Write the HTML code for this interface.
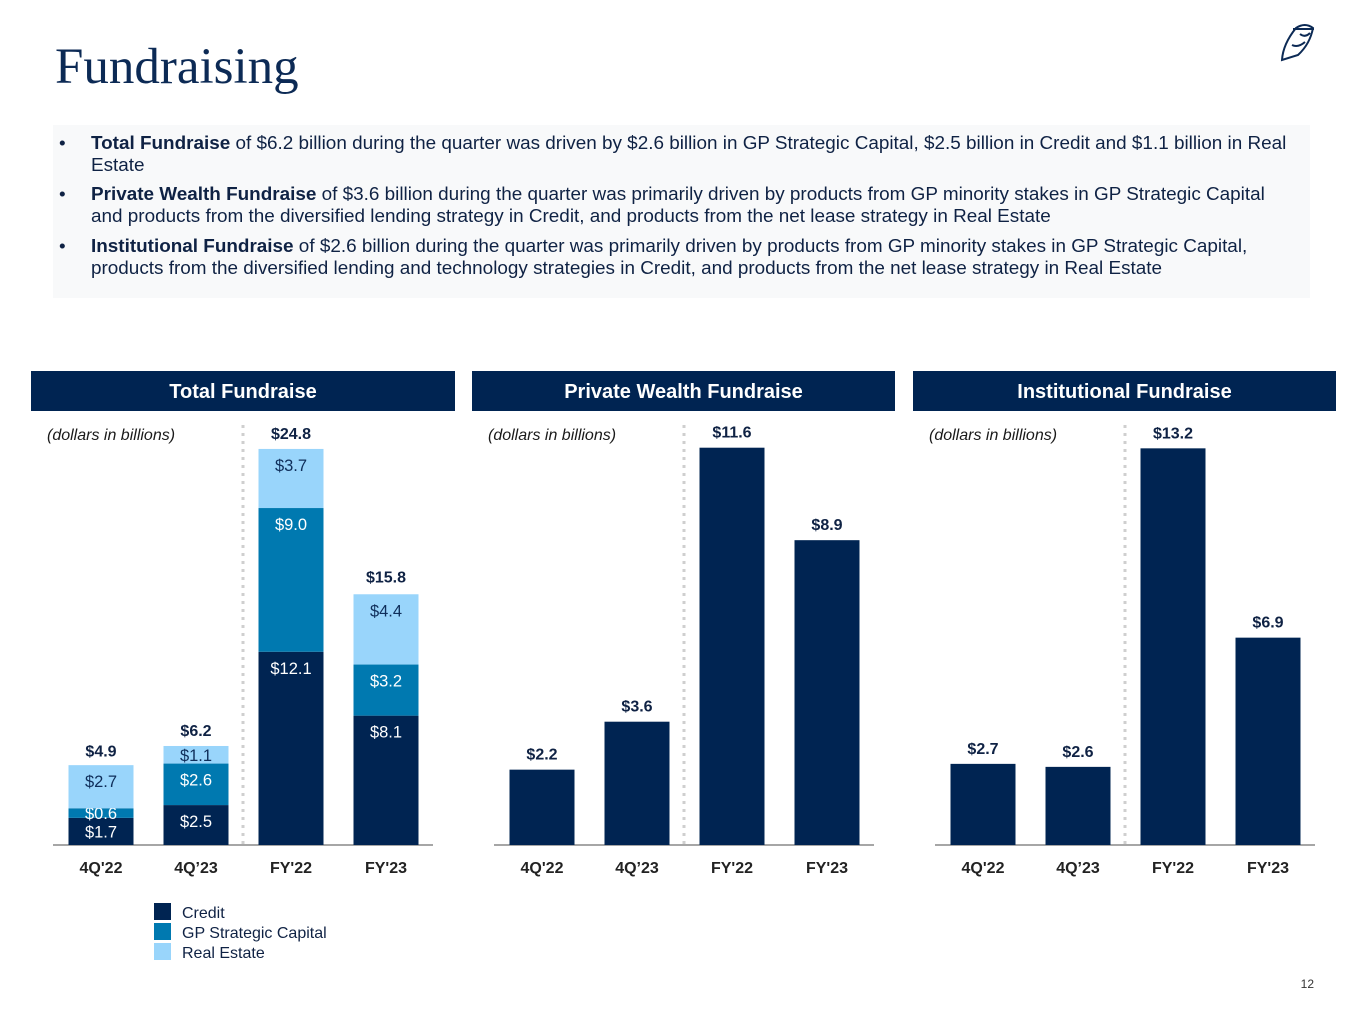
<!DOCTYPE html>
<html><head><meta charset="utf-8"><style>
body{margin:0;width:1365px;height:1024px;background:#fff;position:relative;overflow:hidden;font-family:"Liberation Sans",sans-serif;}
.title{position:absolute;left:55px;top:38px;font-family:"Liberation Serif",serif;font-size:51px;color:#0c2a55;}
.box{position:absolute;left:53px;top:125px;width:1257px;height:173px;background:#f8f9fa;}
.b{position:absolute;left:38px;width:1212px;font-size:18.9px;line-height:22px;color:#0f2244;}
.b:before{content:"•";position:absolute;left:-32px;}
.hdr{position:absolute;top:371px;height:40px;background:#002452;color:#fff;font-weight:bold;font-size:20px;line-height:42px;text-align:center;}
svg{position:absolute;left:0;top:0;}
</style></head><body>
<div class="title">Fundraising</div>
<svg width="1365" height="1024">
<g fill="none" stroke="#0c2a55" stroke-width="2">
<path d="M1296 28 Q1305 22 1313 28 Q1310 44 1298 55 L1282 60 Q1283 44 1296 28 Z"/>
<path d="M1293 29 L1314 29"/><path d="M1300 34 Q1305 38 1310 33"/><path d="M1292 45 Q1298 48 1305 42"/>
</g>
<g id="c"></g>
</svg>
<div class="box">
<div class="b" style="top:8px"><b>Total Fundraise</b> of $6.2 billion during the quarter was driven by $2.6 billion in GP Strategic Capital, $2.5 billion in Credit and $1.1 billion in Real Estate</div>
<div class="b" style="top:59px"><b>Private Wealth Fundraise</b> of $3.6 billion during the quarter was primarily driven by products from GP minority stakes in GP Strategic Capital<br>and products from the diversified lending strategy in Credit, and products from the net lease strategy in Real Estate</div>
<div class="b" style="top:111px"><b>Institutional Fundraise</b> of $2.6 billion during the quarter was primarily driven by products from GP minority stakes in GP Strategic Capital, products from the diversified lending and technology strategies in Credit, and products from the net lease strategy in Real Estate</div>
</div>
<div class="hdr" style="left:31px;width:424px">Total Fundraise</div>
<div class="hdr" style="left:472px;width:423px">Private Wealth Fundraise</div>
<div class="hdr" style="left:913px;width:423px">Institutional Fundraise</div>
<script>
const categories=["4Q'22","4Q’23","FY'22","FY'23"];
const credit=[1.7,2.5,12.1,8.1];
const gpsc=[0.6,2.6,9.0,3.2];
const realEstate=[2.7,1.1,3.7,4.4];
const totals=[4.9,6.2,24.8,15.8];
const privateWealth=[2.2,3.6,11.6,8.9];
const institutional=[2.7,2.6,13.2,6.9];
const NS="http://www.w3.org/2000/svg",g=document.getElementById('c');
const BASE=845;
function mk(t,a,txt){const e=document.createElementNS(NS,t);for(const k in a)e.setAttribute(k,a[k]);if(txt!==undefined)e.textContent=txt;g.appendChild(e);return e;}
function fmt(v){return '$'+v.toFixed(1);}
function panel(x0,scale,name){
  const xc=i=>x0+70+95*i;
  let e=mk('line',{x1:x0+22,y1:BASE,x2:x0+402,y2:BASE,stroke:'#a6a6a6','stroke-width':2});
  
  e=mk('line',{x1:x0+212,y1:425,x2:x0+212,y2:BASE,stroke:'#cfcfcf','stroke-width':3,'stroke-dasharray':'3 5'});
  
  e=mk('text',{x:x0+16,y:440,'font-size':16,'font-style':'italic',fill:'#1a1a1a'},'(dollars in billions)');
  
  categories.forEach((c,i)=>{const t=mk('text',{x:xc(i),y:873,'font-size':16,'font-weight':'bold',fill:'#222','text-anchor':'middle'},c);
  });
  return {xc,y:v=>BASE-v*scale};
}
const p1=panel(31,15.97,'total');
categories.forEach((c,i)=>{
  let acc=0;
  [[credit,'#002452'],[gpsc,'#0079b0'],[realEstate,'#99d5fb']].forEach(([arr,col],s)=>{
    const y1=p1.y(acc),y2=p1.y(acc+arr[i]);acc+=arr[i];
    const r=mk('rect',{x:p1.xc(i)-32.5,y:y2,width:65,height:y1-y2,fill:col});
    
    const ty=(y1-y2)<30?(y1+y2)/2+6:y2+22;
    const t=mk('text',{x:p1.xc(i),y:ty,'font-size':16.5,fill:s==2?'#0f2e5a':'#fff','text-anchor':'middle'},fmt(arr[i]));
    
  });
  const t=mk('text',{x:p1.xc(i),y:p1.y(totals[i])-10,'font-size':16,'font-weight':'bold',fill:'#0f2244','text-anchor':'middle'},fmt(totals[i]));
  
});
function simple(x0,scale,arr,name){
  const p=panel(x0,scale,name);
  arr.forEach((v,i)=>{
    const r=mk('rect',{x:p.xc(i)-32.5,y:p.y(v),width:65,height:v*scale,fill:'#002452'});
    
    const t=mk('text',{x:p.xc(i),y:p.y(v)-10,'font-size':16,'font-weight':'bold',fill:'#0f2244','text-anchor':'middle'},fmt(v));
    
  });
}
simple(472,34.25,privateWealth,'private-wealth');
simple(913,30.05,institutional,'institutional');
[['Credit','#002452'],['GP Strategic Capital','#0079b0'],['Real Estate','#99d5fb']].forEach(([n,col],i)=>{
  const r=mk('rect',{x:154,y:903+i*20,width:17,height:17,fill:col});
  
  const t=mk('text',{x:182,y:918+i*20,'font-size':16,fill:'#0f2244'},n);
  
});
const pn=mk('text',{x:1314,y:988,'font-size':12,fill:'#333','text-anchor':'end'},'12');

</script>
</body></html>
